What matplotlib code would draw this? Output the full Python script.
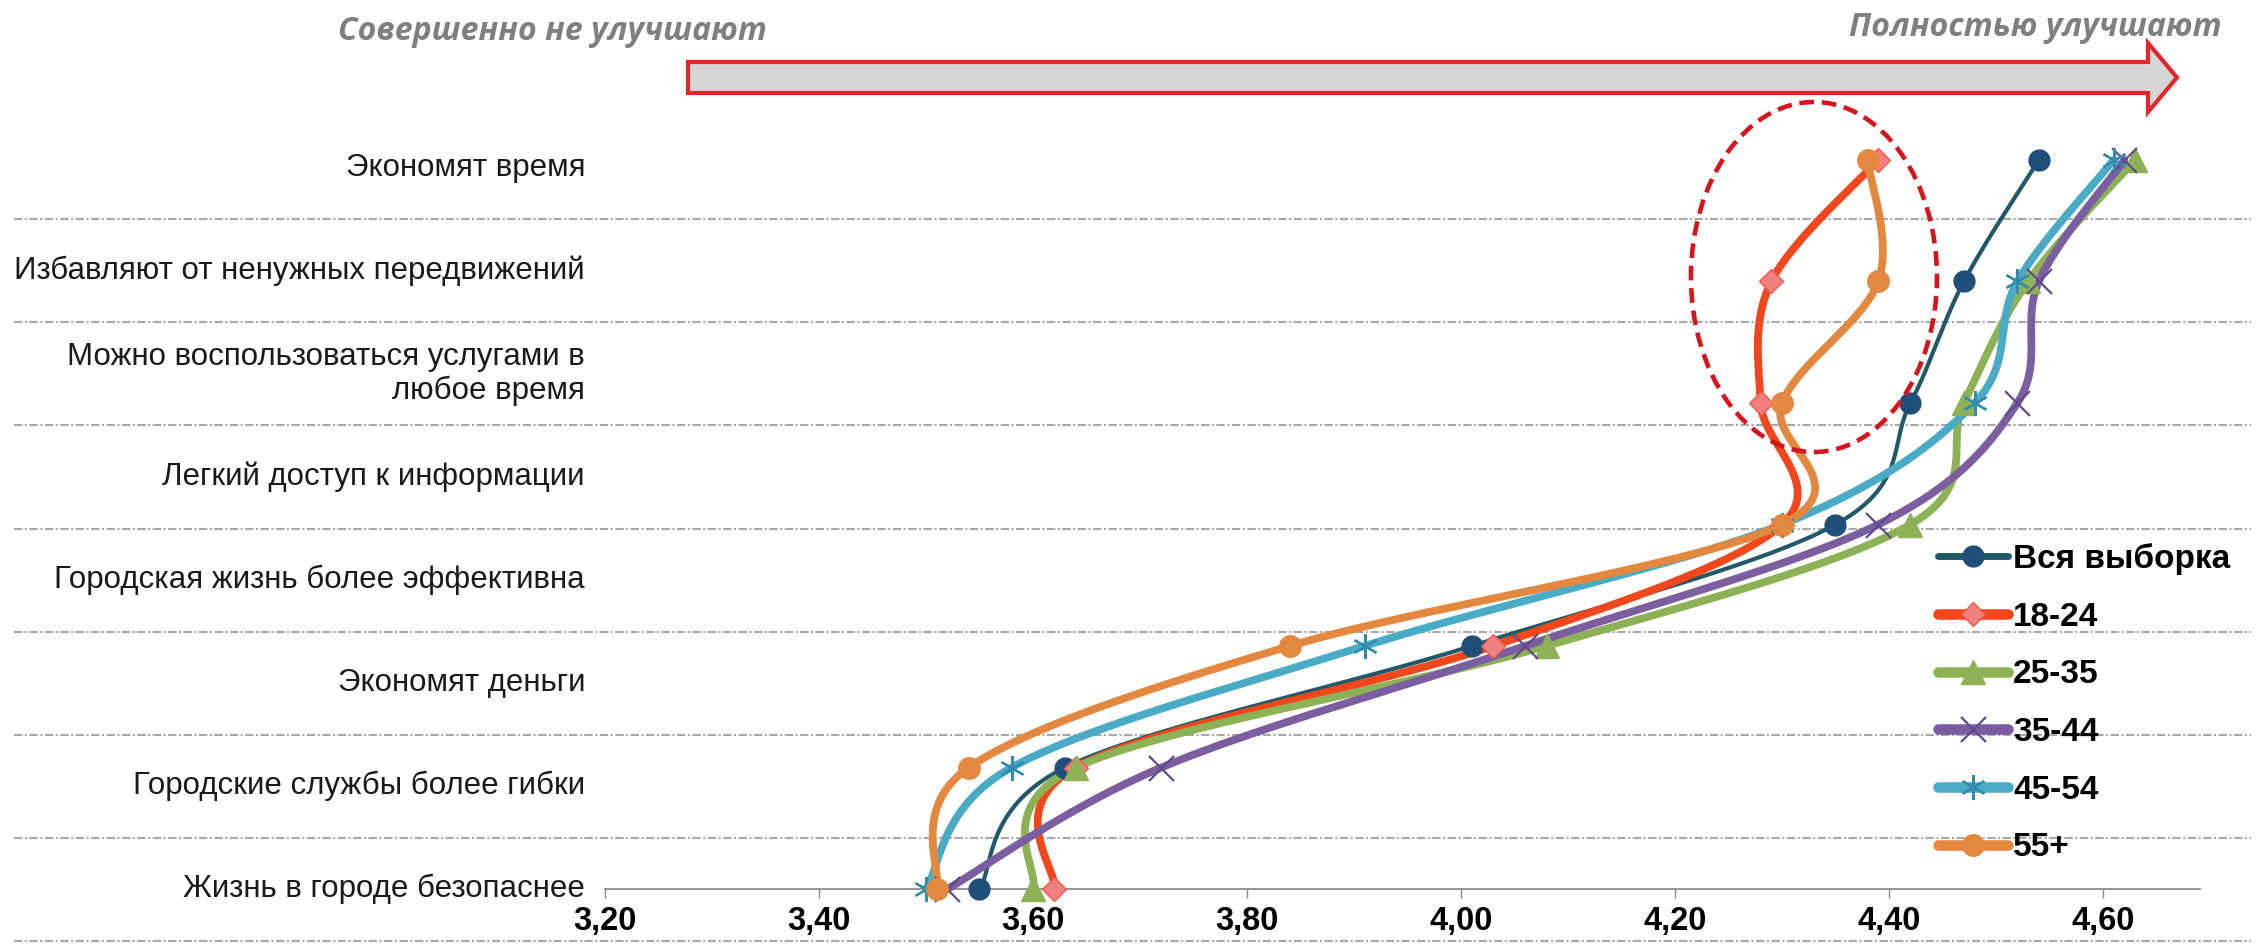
import numpy as np
import matplotlib
matplotlib.use("Agg")
import matplotlib.pyplot as plt
from matplotlib import transforms
from matplotlib.patches import Ellipse, Polygon
from matplotlib.ticker import FuncFormatter

plt.rcParams['font.family'] = ['Liberation Sans', 'DejaVu Sans']

# ---------------- data ----------------
categories = [
    "Экономят время",
    "Избавляют от ненужных передвижений",
    "Можно воспользоваться услугами в\nлюбое время",
    "Легкий доступ к информации",
    "Городская жизнь более эффективна",
    "Экономят деньги",
    "Городские службы более гибки",
    "Жизнь в городе безопаснее",
]
series_names = ["Вся выборка", "18-24", "25-35", "35-44", "45-54", "55+"]
# values listed from the top point of each curve to the bottom one
all_sample = [4.54, 4.47, 4.42, 4.35, 4.01, 3.63, 3.55]
age_18_24 = [4.39, 4.29, 4.28, 4.30, 4.03, 3.64, 3.62]
age_25_35 = [4.63, 4.53, 4.47, 4.42, 4.08, 3.64, 3.60]
age_35_44 = [4.62, 4.54, 4.52, 4.39, 4.06, 3.72, 3.52]
age_45_54 = [4.61, 4.52, 4.48, 4.30, 3.91, 3.58, 3.50]
age_55p = [4.38, 4.39, 4.30, 4.30, 3.84, 3.54, 3.51]
x_ticks = [3.20, 3.40, 3.60, 3.80, 4.00, 4.20, 4.40, 4.60]
left_caption = "Совершенно не улучшают"
right_caption = "Полностью улучшают"

# ---------------- figure ----------------
W, H = 2262, 948
fig = plt.figure(figsize=(W / 100, H / 100), dpi=100)

X0, X1 = 3.20, 4.6907          # axis data range
px_left, px_right = 605, 2200
px_base = 889                  # pixel row of y = 0
py_unit = 121.5                # pixels per y unit
y_top = 6.9
ax = fig.add_axes([px_left / W, (H - px_base) / H,
                   (px_right - px_left) / W, y_top * py_unit / H])
ax.set_xlim(X0, X1)
ax.set_ylim(0, y_top)
for s in ["top", "right", "left"]:
    ax.spines[s].set_visible(False)
ax.spines["bottom"].set_color("#8c8c8c")
ax.spines["bottom"].set_linewidth(1.3)
ax.set_yticks([])
ax.set_xticks(x_ticks)
ax.xaxis.set_major_formatter(FuncFormatter(lambda v, p: f"{v:.2f}".replace(".", ",")))
ax.tick_params(axis="x", direction="out", length=6.5, width=1.0, color="#8c8c8c",
               pad=6, labelsize=23.5)
for t in ax.get_xticklabels():
    t.set_fontweight("bold")
ax.patch.set_alpha(0)


def smooth(xs, ys, sx=1070.0, sy=py_unit, n=40):
    P = np.column_stack([np.asarray(xs, float) * sx, np.asarray(ys, float) * sy])
    out = []
    for i in range(len(P) - 1):
        p0 = P[i - 1] if i > 0 else P[i]
        p1, p2 = P[i], P[i + 1]
        p3 = P[i + 2] if i + 2 < len(P) else P[i + 1]
        c1 = p1 + (p2 - p0) / 6.0
        c2 = p2 - (p3 - p1) / 6.0
        t = np.linspace(0, 1, n)[:, None]
        seg = (1 - t) ** 3 * p1 + 3 * (1 - t) ** 2 * t * c1 + 3 * (1 - t) * t ** 2 * c2 + t ** 3 * p2
        out.append(seg if i == 0 else seg[1:])
    out = np.vstack(out)
    return out[:, 0] / sx, out[:, 1] / sy


n_pts = len(all_sample)
levels = np.arange(n_pts)[::-1]

styles = [
    dict(color="#215968", lw=3.0, marker="o", ms=15, mfc="#1f4e79", mec="#1f4e79", mew=1),
    dict(color="#f2461c", lw=5.6, marker="D", ms=12.5, mfc="#f38080", mec="#f25a4a", mew=1),
    dict(color="#8db255", lw=5.6, marker="^", ms=17, mfc="#8db255", mec="#8db255", mew=1),
    dict(color="#7a5ea0", lw=5.6, marker="x", ms=18, mfc="none", mec="#5f4b8b", mew=1.6),
    dict(color="#4aabc6", lw=5.6, marker=(6, 2, 0), ms=18, mfc="none", mec="#2f8cae", mew=1.6),
    dict(color="#e4873f", lw=5.6, marker="o", ms=15.5, mfc="#e4873f", mec="#e4873f", mew=1),
]
values = [all_sample, age_18_24, age_25_35, age_35_44, age_45_54, age_55p]

handles = []
for name, vals, st in zip(series_names, values, styles):
    sx_, sy_ = smooth(vals, levels)
    ax.plot(sx_, sy_, color=st["color"], lw=st["lw"], solid_capstyle="round",
            solid_joinstyle="round", clip_on=False, zorder=3)
    ax.plot(vals, levels, ls="none", marker=st["marker"], ms=st["ms"], mfc=st["mfc"],
            mec=st["mec"], mew=st["mew"], clip_on=False, zorder=4)
    h, = ax.plot([], [], color=st["color"], lw=st["lw"] + 2.0, marker=st["marker"],
                 ms=st["ms"], mfc=st["mfc"], mec=st["mec"], mew=st["mew"],
                 solid_capstyle="round")
    handles.append(h)

# ---------------- category labels & separators ----------------
label_step = 103 / py_unit
blend = transforms.blended_transform_factory(fig.transFigure, ax.transData)
ncat = len(categories)
for i, cat in enumerate(categories):
    yl = (ncat - 1 - i) * label_step
    ax.text(585 / W, yl, cat, transform=blend, ha="right", va="center",
            fontsize=22.5, color="#1a1a1a", linespacing=1.15)
for i in range(ncat):
    yd = (i - 0.5) * label_step
    ax.plot([14 / W, 2251 / W], [yd, yd], transform=blend, color="#a8a8a8", lw=1.5,
            ls=(0, (4, 1.2, 1, 1.2)), clip_on=False, zorder=1)

# ---------------- highlight ellipse ----------------
ell = Ellipse((4.3299, 5.037), width=246 / 1070, height=350 / py_unit, fill=False,
              edgecolor="#d7141c", lw=3.3, ls=(0, (3.2, 1.7)), zorder=5, clip_on=False)
ax.add_patch(ell)

# ---------------- top arrow & captions ----------------
body_px = [(688, 62), (2148, 62), (2148, 93), (688, 93)]
head_px = [(2148, 62), (2148, 43), (2177, 77.5), (2148, 112), (2148, 93)]
arrow_px = [(688, 62), (2148, 62), (2148, 43), (2177, 77.5), (2148, 112), (2148, 93), (688, 93)]
arrow = Polygon([(x / W, 1 - y / H) for x, y in arrow_px], closed=True,
                transform=fig.transFigure, facecolor="#d6d6d6", edgecolor="#e3262b",
                lw=3.0, joinstyle="miter")
fig.patches.append(arrow)
fig.text(338 / W, 1 - 32 / H, left_caption, ha="left", va="center", fontsize=23,
         fontweight="bold", fontstyle="italic", color="#7f7f7f", family=["Open Sans", "DejaVu Sans"])
fig.text(2222 / W, 1 - 27 / H, right_caption, ha="right", va="center", fontsize=23,
         fontweight="bold", fontstyle="italic", color="#7f7f7f", family=["Open Sans", "DejaVu Sans"])

# ---------------- legend ----------------
leg = ax.legend(handles, series_names, loc="upper left",
                bbox_to_anchor=(1938 / W, 1 - 543 / H), bbox_transform=fig.transFigure,
                frameon=False, borderpad=0, borderaxespad=0, handlelength=2.1,
                handletextpad=0.15, labelspacing=0.8, numpoints=1,
                prop=dict(size=24, weight="bold"))

fig.savefig("out.png", dpi=100, facecolor="white")
